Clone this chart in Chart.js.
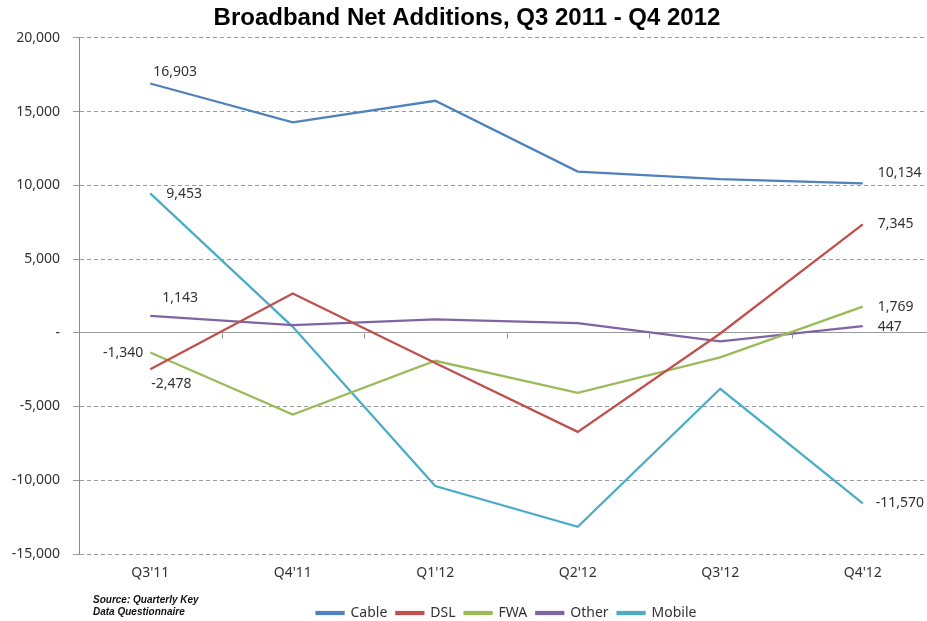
<!DOCTYPE html>
<html>
<head>
<meta charset="utf-8">
<script src="https://cdn.jsdelivr.net/npm/chart.js@4"></script>
<style>
  html, body { margin: 0; padding: 0; background: #fff; overflow: hidden; }
  #wrap { position: relative; width: 927px; height: 621px; overflow: hidden; }
  #chart { position: absolute; left: 0; top: 0; }
  .source {
    position: absolute; left: 93px; top: 594px;
    font: italic bold 10px "Liberation Sans", Arial, sans-serif;
    line-height: 12px; color: #111;
  }
</style>
</head>
<body>
<div id="wrap">
  <canvas id="chart" width="934" height="630"></canvas>
  <div class="source">Source: Quarterly Key<br>Data Questionnaire</div>
</div>
<script>
// quarters on the x axis
const quarters = ["Q3'11", "Q4'11", "Q1'12", "Q2'12", "Q3'12", "Q4'12"];

// net additions per technology
const cable  = [16903, 14260, 15730, 10930, 10410, 10134];
const dsl    = [-2478, 2670, -2050, -6720, -50, 7345];
const fwa    = [-1340, -5540, -1900, -4070, -1670, 1769];
const other  = [1143, 520, 900, 660, -590, 447];
const mobile = [9453, 400, -10390, -13150, -3800, -11570];

const seriesNames = ["Cable", "DSL", "FWA", "Other", "Mobile"];
const seriesData = [cable, dsl, fwa, other, mobile];

// y axis range
const yMin = -15000;
const yMax = 20000;
const yStep = 5000;

const colors = ["#4F81BD", "#C0504D", "#9BBB59", "#8064A2", "#4BACC6"];
const textFont = '"Noto Sans", "Open Sans", sans-serif';

// where the end-point labels sit relative to their point
const labelSpots = [
  { first: { dx: 3, dy: -11, align: "left" },  last: { dx: 15, dy: -10, align: "left" } },
  { first: { dx: 1, dy: 15, align: "left" },   last: { dx: 15, dy: 0, align: "left" } },
  { first: { dx: -7, dy: 0, align: "right" },  last: { dx: 15, dy: 0, align: "left" } },
  { first: { dx: 12, dy: -18, align: "left" }, last: { dx: 15, dy: 1, align: "left" } },
  { first: { dx: 16, dy: 1, align: "left" },   last: { dx: 13, dy: 0, align: "left" } }
];

function fmt(v) {
  if (v === 0) return "-";
  return Number(v).toLocaleString("en-US");
}

const endLabels = {
  id: "endLabels",
  afterDatasetsDraw(chart) {
    const ctx = chart.ctx;
    ctx.save();
    ctx.font = "14px " + textFont;
    ctx.fillStyle = "#333";
    ctx.textBaseline = "middle";
    chart.data.datasets.forEach((ds, i) => {
      const pts = chart.getDatasetMeta(i).data;
      const spots = labelSpots[i];
      [[0, spots.first], [pts.length - 1, spots.last]].forEach(([idx, s]) => {
        const p = pts[idx];
        ctx.textAlign = s.align;
        ctx.fillText(fmt(ds.data[idx]), p.x + s.dx, p.y + s.dy);
      });
    });
    ctx.restore();
  }
};

// little tick marks on the zero line, between categories
const zeroTicks = {
  id: "zeroTicks",
  afterDraw(chart) {
    const x = chart.scales.x, y = chart.scales.y;
    const ctx = chart.ctx;
    const y0 = Math.round(y.getPixelForValue(0)) + 0.5;
    const n = quarters.length;
    const step = (x.right - x.left) / n;
    ctx.save();
    ctx.strokeStyle = "#8c8c8c";
    ctx.lineWidth = 1;
    ctx.beginPath();
    for (let i = 1; i < n; i++) {
      const px = Math.round(x.left + i * step) + 0.5;
      ctx.moveTo(px, y0);
      ctx.lineTo(px, y0 + 5);
    }
    ctx.stroke();
    ctx.restore();
  }
};

new Chart(document.getElementById("chart").getContext("2d"), {
  type: "line",
  data: {
    labels: quarters,
    datasets: seriesNames.map((name, i) => ({
      label: name,
      data: seriesData[i],
      borderColor: colors[i],
      backgroundColor: colors[i],
      borderWidth: 2.25,
      pointRadius: 0,
      tension: 0,
      fill: false
    }))
  },
  options: {
    responsive: false,
    animation: false,
    layout: { padding: { top: 0, bottom: 0, left: 0, right: 0 } },
    plugins: {
      title: {
        display: true,
        text: "Broadband Net Additions, Q3 2011 - Q4 2012",
        color: "#000",
        font: { family: '"Liberation Sans", Arial, sans-serif', size: 24, weight: "bold" },
        padding: { top: 4, bottom: 5 }
      },
      legend: {
        position: "bottom",
        fullSize: false,
        labels: {
          color: "#333",
          font: { family: textFont, size: 14 },
          boxWidth: 27,
          boxHeight: 2,
          padding: 9
        }
      },
      tooltip: { enabled: false }
    },
    scales: {
      x: {
        offset: true,
        grid: { display: false },
        border: { display: false },
        ticks: { color: "#333", font: { family: textFont, size: 14 }, padding: 3 },
        afterFit(scale) { scale.height = 43; }
      },
      y: {
        min: yMin,
        max: yMax,
        ticks: {
          stepSize: yStep,
          color: "#333",
          font: { family: textFont, size: 14 },
          padding: 13,
          callback: v => fmt(v)
        },
        grid: {
          color: "#9a9a9a",
          tickLength: 6,
          lineWidth: 1
        },
        border: {
          display: true,
          color: "#8c8c8c",
          dash: ctx => (ctx.tick && ctx.tick.value === 0 ? [] : [4, 3])
        },
        afterFit(scale) { scale.width = 79; }
      }
    }
  },
  plugins: [endLabels, zeroTicks]
});
</script>
</body>
</html>
